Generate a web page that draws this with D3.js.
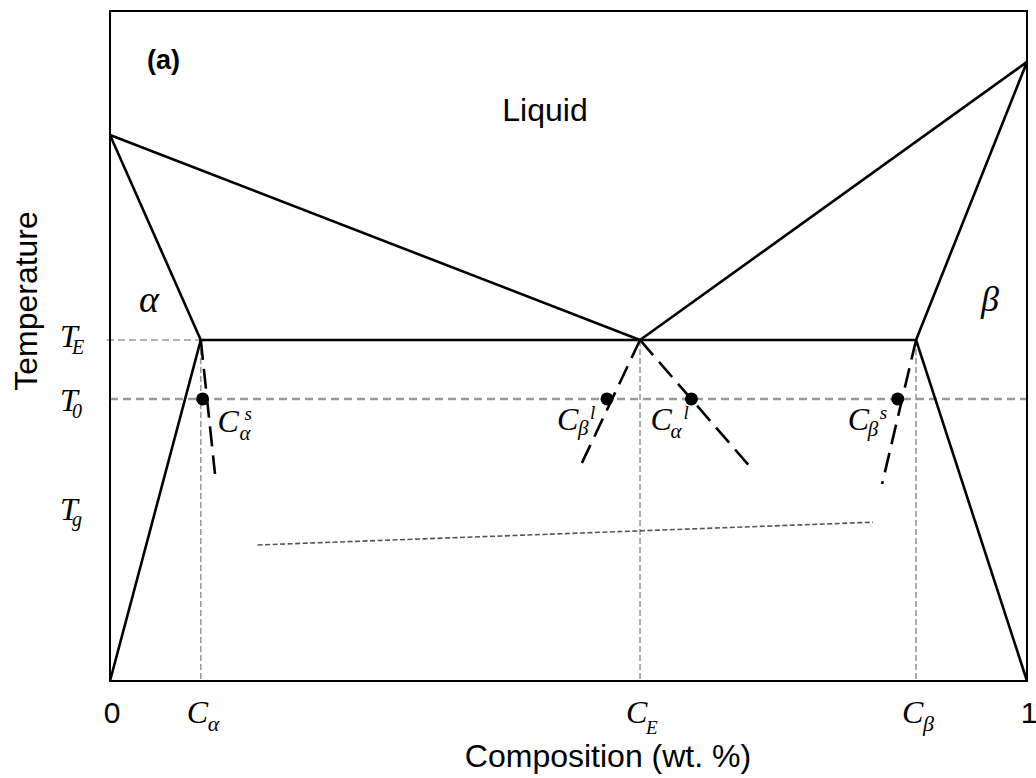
<!DOCTYPE html>
<html>
<head>
<meta charset="utf-8">
<script src="https://cdn.jsdelivr.net/npm/d3@7"></script>
<style>
  body { margin: 0; background: #fff; }
  .sans { font-family: "Liberation Sans", Arial, sans-serif; fill: #000; }
  .ital { font-family: "Liberation Serif", "Times New Roman", serif; font-style: italic; fill: #000; }
</style>
</head>
<body>
<div id="chart"></div>
<script>
// composition (0..1) and temperature (arbitrary 0..100) of the diagram
var TmA = 81.5, TmB = 92.4;        // melting points of pure A and pure B
var TE = 50.9, T0 = 42.1;          // eutectic and undercooling temperature
var Calpha = 0.099, CE = 0.578, Cbeta = 0.879;

var xTickValues = [0, Calpha, CE, Cbeta, 1];
var xTickLabels = [["0"], ["C", "α"], ["C", "E"], ["C", "β"], ["1"]];

var yLabelValues = [51.5, 42.0, 25.6];
var yLabelNames = [["T", "E"], ["T", "0"], ["T", "g"]];

// solid phase boundaries
var boundaries = [
  [[0, TmA], [CE, TE]],           // liquidus A side
  [[1, TmB], [CE, TE]],           // liquidus B side
  [[0, TmA], [Calpha, TE]],       // solidus alpha
  [[1, TmB], [Cbeta, TE]],        // solidus beta
  [[Calpha, TE], [Cbeta, TE]],    // eutectic line
  [[Calpha, TE], [0, 0]],         // solvus alpha
  [[Cbeta, TE], [1, 0]]           // solvus beta
];

// metastable extrapolations below TE
var metastable = [
  [[Calpha, TE], [0.1145, 30.9]],
  [[CE, TE], [0.511, 31.5]],
  [[CE, TE], [0.701, 31.5]],
  [[Cbeta, TE], [0.842, 29.4]]
];

var tgLine = [[0.161, 20.3], [0.832, 23.7]];

var dotComps = [0.101, 0.542, 0.634, 0.859];
var dotNames = [["C", "α", "s"], ["C", "β", "l"], ["C", "α", "l"], ["C", "β", "s"]];

var width = 1036, height = 778;
var plotLeft = 110, plotRight = 1027, plotTop = 11, plotBottom = 681;

var svg = d3.select("#chart").append("svg").attr("width", width).attr("height", height);

var x = d3.scaleLinear().domain([0, 1]).range([plotLeft, plotRight]);
var y = d3.scaleLinear().domain([0, 100]).range([plotBottom, plotTop]);

var line = d3.line().x(function(d) { return x(d[0]); }).y(function(d) { return y(d[1]); });

// gray guide lines
var guides = svg.append("g").attr("stroke", "#9a9a9a").attr("fill", "none");
guides.append("line")
  .attr("x1", x(0) - 3).attr("x2", x(Calpha))
  .attr("y1", y(TE)).attr("y2", y(TE))
  .attr("stroke-width", 1.6).attr("stroke-dasharray", "7,4");
guides.append("line")
  .attr("x1", x(0)).attr("x2", x(1))
  .attr("y1", y(T0)).attr("y2", y(T0))
  .attr("stroke-width", 2.6).attr("stroke-dasharray", "8,5");
guides.selectAll(".vguide").data([Calpha, CE, Cbeta]).enter().append("line")
  .attr("class", "vguide")
  .attr("x1", function(d) { return x(d); }).attr("x2", function(d) { return x(d); })
  .attr("y1", y(TE)).attr("y2", y(0))
  .attr("stroke-width", 1.6).attr("stroke-dasharray", "6,3");

// Tg line
svg.append("path").datum(tgLine).attr("d", line)
  .attr("fill", "none").attr("stroke", "#555").attr("stroke-width", 1.6)
  .attr("stroke-dasharray", "5,2.5");

// frame
svg.append("rect").attr("x", plotLeft).attr("y", plotTop)
  .attr("width", plotRight - plotLeft).attr("height", plotBottom - plotTop)
  .attr("fill", "none").attr("stroke", "#000").attr("stroke-width", 2);

// phase boundaries
svg.append("g").selectAll("path").data(boundaries).enter().append("path")
  .attr("d", line).attr("fill", "none").attr("stroke", "#000")
  .attr("stroke-width", 2.6).attr("stroke-linejoin", "miter");

svg.append("g").selectAll("path").data(metastable).enter().append("path")
  .attr("d", line).attr("fill", "none").attr("stroke", "#000")
  .attr("stroke-width", 2.6).attr("stroke-dasharray", "20,9");

// dots at T0
svg.append("g").selectAll("circle").data(dotComps).enter().append("circle")
  .attr("cx", function(d) { return x(d); }).attr("cy", y(T0)).attr("r", 6.5).attr("fill", "#000");

// italic label with optional subscript / superscript
function symbol(g, px, py, parts, o) {
  g.append("text").attr("class", "ital").attr("x", px).attr("y", py)
    .attr("font-size", o.size).text(parts[0]);
  if (parts[1]) {
    g.append("text").attr("class", "ital").attr("x", px + o.subDx).attr("y", py + o.subDy)
      .attr("font-size", o.subSize).text(parts[1]);
  }
  if (parts[2]) {
    g.append("text").attr("class", "ital").attr("x", px + o.supDx).attr("y", py + o.supDy)
      .attr("font-size", o.supSize).text(parts[2]);
  }
}

var labels = svg.append("g");

// x tick labels
xTickValues.forEach(function(v, i) {
  var p = xTickLabels[i];
  if (p.length === 1) {
    labels.append("text").attr("class", "sans").attr("x", x(v) + 2).attr("y", 723)
      .attr("font-size", 30).attr("text-anchor", "middle").text(p[0]);
  } else {
    var sub = p[1] === "E" ? { dy: 11, size: 19, dx: 20 } : { dy: 8, size: 22, dx: 21 };
    symbol(labels, x(v) - 14, 723, p, { size: 32, subDx: sub.dx, subDy: sub.dy, subSize: sub.size });
  }
});

// temperature labels
yLabelValues.forEach(function(v, i) {
  var p = yLabelNames[i];
  var dy = p[1] === "g" ? 6 : 7;
  symbol(labels, 60, y(v) + 11, p, { size: 32, subDx: 12, subDy: dy, subSize: 20 });
});

// labels next to the dots
var dotOffsets = [
  { dx: 15, dy: 33, subDx: 22, subDy: 8, supDx: 27, supDy: -12 },
  { dx: -50, dy: 31, subDx: 21, subDy: 5, supDx: 33, supDy: -11 },
  { dx: -41, dy: 31, subDx: 20, subDy: 8, supDx: 33, supDy: -11 },
  { dx: -50, dy: 31, subDx: 20, subDy: 6, supDx: 32, supDy: -11 }
];
dotComps.forEach(function(c, i) {
  var o = dotOffsets[i];
  symbol(labels, x(c) + o.dx, y(T0) + o.dy, dotNames[i],
    { size: 32, subDx: o.subDx, subDy: o.subDy, subSize: 21, supDx: o.supDx, supDy: o.supDy, supSize: 19 });
});

// phase region names
labels.append("text").attr("class", "sans").attr("x", 545).attr("y", 121)
  .attr("font-size", 32).attr("text-anchor", "middle").text("Liquid");
labels.append("text").attr("class", "ital").attr("x", 149).attr("y", 312)
  .attr("font-size", 38).attr("text-anchor", "middle").text("α");
labels.append("text").attr("class", "ital").attr("x", 990).attr("y", 311)
  .attr("font-size", 36).attr("text-anchor", "middle").text("β");
labels.append("text").attr("class", "sans").attr("x", 147).attr("y", 69)
  .attr("font-size", 27).attr("font-weight", "bold").text("(a)");

// axis titles
labels.append("text").attr("class", "sans")
  .attr("transform", "translate(37," + 301 + ")rotate(-90)")
  .attr("font-size", 32).attr("text-anchor", "middle").text("Temperature");
labels.append("text").attr("class", "sans").attr("x", 608).attr("y", 767)
  .attr("font-size", 32).attr("text-anchor", "middle").text("Composition (wt. %)");
</script>
</body>
</html>
